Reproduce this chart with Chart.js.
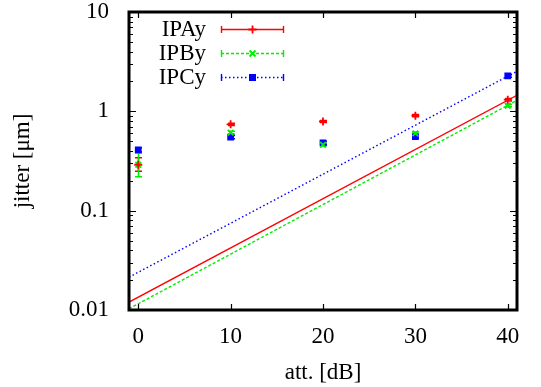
<!DOCTYPE html>
<html><head><meta charset="utf-8">
<script src="https://cdn.jsdelivr.net/npm/chart.js@4"></script>
<style>html,body{margin:0;padding:0;background:#fff}</style>
</head><body>
<canvas id="c" width="541" height="387"></canvas>
<script>
// ---- data ----
const attenuation = [0, 10, 20, 30, 40];
const xTickValues = [0, 10, 20, 30, 40];
const yTickValues = [0.01, 0.1, 1, 10];

const ipaY   = [0.29, 0.74, 0.79, 0.905, 1.31];
const ipaLow = [0.25, 0.72, 0.77, 0.88, 1.27];
const ipaHigh= [0.34, 0.76, 0.81, 0.93, 1.35];

const ipbY   = [0.29, 0.61, 0.46, 0.60, 1.14];
const ipbLow = [0.22, 0.59, 0.45, 0.58, 1.11];
const ipbHigh= [0.38, 0.63, 0.47, 0.62, 1.17];

const ipcY   = [0.41, 0.55, 0.48, 0.556, 2.27];
const ipcLow = [0.39, 0.53, 0.46, 0.54, 2.20];
const ipcHigh= [0.43, 0.57, 0.50, 0.58, 2.34];

// fit lines: values at the left and right edge of the plot
const fitX  = [-1, 41];
const fitA  = [0.0120, 1.45];
const fitB  = [0.0103, 1.29];
const fitC  = [0.0214, 2.53];

const seriesLabels = ['IPAy', 'IPBy', 'IPCy'];

// ---- build ----
const FONT = '"Liberation Serif", "Times New Roman", serif';
const toPts = (xs, ys) => xs.map((x, i) => ({x: x, y: ys[i]}));
const colors = ['#ff0000', '#00ee00', '#0000ff'];
const dashes = [[], [3, 2], [1.5, 2.5]];
const pStyles = ['cross', 'crossRot', 'rect'];
const errLow = [ipaLow, ipbLow, ipcLow];
const errHigh = [ipaHigh, ipbHigh, ipcHigh];

const pointSets = [ipaY, ipbY, ipcY].map((ys, i) => ({
  label: seriesLabels[i],
  data: toPts(attenuation, ys),
  showLine: false,
  pointStyle: pStyles[i],
  pointRadius: i === 2 ? 3.5 : 4,
  pointBorderWidth: 1.8,
  borderColor: colors[i],
  backgroundColor: colors[i]
}));
const fitSets = [fitA, fitB, fitC].map((ys, i) => ({
  label: seriesLabels[i] + ' fit',
  data: toPts(fitX, ys),
  showLine: true,
  pointRadius: 0,
  borderWidth: 1.4,
  borderColor: colors[i],
  borderDash: dashes[i],
  fill: false
}));

function drawMarker(ctx, style, x, y, color) {
  ctx.save();
  ctx.strokeStyle = color; ctx.fillStyle = color; ctx.lineWidth = 1.8; ctx.setLineDash([]);
  ctx.beginPath();
  if (style === 'cross') { ctx.moveTo(x-4,y); ctx.lineTo(x+4,y); ctx.moveTo(x,y-4); ctx.lineTo(x,y+4); ctx.stroke(); }
  else if (style === 'crossRot') { ctx.moveTo(x-3,y-3); ctx.lineTo(x+3,y+3); ctx.moveTo(x-3,y+3); ctx.lineTo(x+3,y-3); ctx.stroke(); }
  else { ctx.fillRect(x-3.5,y-3.5,7,7); }
  ctx.restore();
}

const gnuplotDecor = {
  id: 'gnuplotDecor',
  beforeDatasetsDraw(chart) {
    const ctx = chart.ctx, xs = chart.scales.x, ys = chart.scales.y;
    ctx.save();
    pointSets.forEach((ds, i) => {
      ctx.strokeStyle = colors[i]; ctx.lineWidth = 1.5;
      attenuation.forEach((x, k) => {
        const px = Math.round(xs.getPixelForValue(x)) + 0.5;
        const y1 = ys.getPixelForValue(errLow[i][k]);
        const y2 = ys.getPixelForValue(errHigh[i][k]);
        ctx.beginPath();
        ctx.moveTo(px, y1); ctx.lineTo(px, y2);
        ctx.moveTo(px-3.5, y1); ctx.lineTo(px+3.5, y1);
        ctx.moveTo(px-3.5, y2); ctx.lineTo(px+3.5, y2);
        ctx.stroke();
      });
    });
    ctx.restore();
  },
  afterDraw(chart) {
    const ctx = chart.ctx, a = chart.chartArea, xs = chart.scales.x, ys = chart.scales.y;
    ctx.save();
    ctx.strokeStyle = '#000'; ctx.lineWidth = 1.2; ctx.setLineDash([]);
    xTickValues.forEach(v => {
      const px = Math.round(xs.getPixelForValue(v)) + 0.5;
      ctx.beginPath();
      ctx.moveTo(px, a.bottom); ctx.lineTo(px, a.bottom - 6);
      ctx.moveTo(px, a.top); ctx.lineTo(px, a.top + 6);
      ctx.stroke();
    });
    for (let d = -2; d < 1; d++) {
      for (let m = 1; m <= 10; m++) {
        const v = m * Math.pow(10, d);
        const py = Math.round(ys.getPixelForValue(v)) + 0.5;
        const len = (m === 1 || m === 10) ? 7 : 4;
        ctx.beginPath();
        ctx.moveTo(a.left, py); ctx.lineTo(a.left + len, py);
        ctx.moveTo(a.right, py); ctx.lineTo(a.right - len, py);
        ctx.stroke();
      }
    }
    ctx.lineWidth = 3;
    ctx.strokeRect(a.left, a.top, a.right - a.left, a.bottom - a.top);
    ctx.font = '23px ' + FONT;
    ctx.textAlign = 'right'; ctx.textBaseline = 'middle'; ctx.fillStyle = '#000';
    seriesLabels.forEach((lab, i) => {
      const y = 29 + i * 24;
      ctx.fillText(lab, 206, y + 1);
      ctx.strokeStyle = colors[i]; ctx.lineWidth = 1.4;
      ctx.setLineDash(dashes[i]);
      ctx.beginPath(); ctx.moveTo(221, y + 0.5); ctx.lineTo(284, y + 0.5); ctx.stroke();
      ctx.setLineDash([]);
      ctx.beginPath();
      ctx.moveTo(221.5, y - 3); ctx.lineTo(221.5, y + 4);
      ctx.moveTo(283.5, y - 3); ctx.lineTo(283.5, y + 4);
      ctx.stroke();
      drawMarker(ctx, pStyles[i], 252.5, y + 0.5, colors[i]);
    });
    ctx.restore();
  }
};

new Chart(document.getElementById('c'), {
  type: 'scatter',
  data: { datasets: [...fitSets, ...pointSets] },
  plugins: [gnuplotDecor],
  options: {
    responsive: false,
    animation: false,
    devicePixelRatio: 1,
    layout: { padding: { top: 12, right: 24, left: 0, bottom: 0 } },
    plugins: { legend: { display: false }, tooltip: { enabled: false } },
    scales: {
      x: {
        type: 'linear', min: -1, max: 41,
        afterBuildTicks: s => { s.ticks = xTickValues.map(v => ({value: v})); },
        afterFit: s => { s.height = 77; s.paddingLeft = 0; s.paddingRight = 0; },
        grid: { display: false }, border: { display: false },
        ticks: { color: '#000', font: { family: FONT, size: 23 }, padding: 5, maxRotation: 0, callback: v => String(v) },
        title: { display: true, text: 'att. [dB]', color: '#000', font: { family: FONT, size: 23 }, padding: { top: 4, bottom: 0 } }
      },
      y: {
        type: 'logarithmic', min: 0.01, max: 10,
        afterBuildTicks: s => { s.ticks = yTickValues.map(v => ({value: v})); },
        afterFit: s => { s.width = 129; s.paddingTop = 0; s.paddingBottom = 0; },
        grid: { display: false }, border: { display: false },
        ticks: { color: '#000', font: { family: FONT, size: 23 }, padding: 12, callback: v => String(v) },
        title: { display: true, text: 'jitter [μm]', color: '#000', font: { family: FONT, size: 23 }, padding: { top: 9, bottom: 0 } }
      }
    }
  }
});
</script>
</body></html>
